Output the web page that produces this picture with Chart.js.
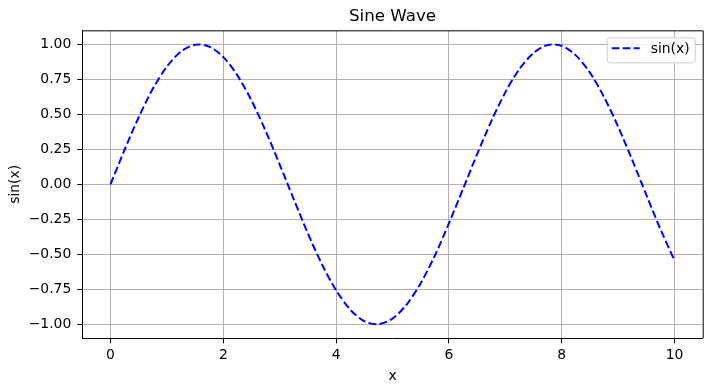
<!DOCTYPE html>
<html>
<head>
<meta charset="utf-8">
<script src="https://cdn.jsdelivr.net/npm/chart.js@4"></script>
<style>
  html, body { margin: 0; padding: 0; background: #fff; }
  #chart { display: block; }
</style>
</head>
<body>
<canvas id="chart" width="711" height="391"></canvas>
<script>
// values
const xs = [0, 0.25, 0.5, 0.75, 1, 1.25, 1.5, 1.75, 2, 2.25, 2.5, 2.75, 3, 3.25, 3.5, 3.75,
            4, 4.25, 4.5, 4.75, 5, 5.25, 5.5, 5.75, 6, 6.25, 6.5, 6.75, 7, 7.25, 7.5, 7.75,
            8, 8.25, 8.5, 8.75, 9, 9.25, 9.5, 9.75, 10];
const ys = [0.000, 0.247, 0.479, 0.682, 0.841, 0.949, 0.997, 0.984, 0.909, 0.778, 0.598, 0.382,
            0.141, -0.108, -0.351, -0.572, -0.757, -0.895, -0.978, -0.999, -0.959, -0.859,
            -0.706, -0.510, -0.279, -0.033, 0.215, 0.450, 0.657, 0.823, 0.938, 0.995, 0.989,
            0.921, 0.798, 0.624, 0.412, 0.174, -0.075, -0.320, -0.544];
const xTicks = [0, 2, 4, 6, 8, 10];
const yTicks = [-1, -0.75, -0.5, -0.25, 0, 0.25, 0.5, 0.75, 1];
const seriesLabel = 'sin(x)';

const FONT = 'DejaVu Sans';
const ctx = document.getElementById('chart').getContext('2d');

// top and right spines + legend box inside the axes
const frameAndLegend = {
    id: 'frameAndLegend',
    afterDraw(chart) {
        const c = chart.ctx;
        const a = chart.chartArea;
        c.save();
        c.strokeStyle = '#000';
        c.lineWidth = 1;
        c.beginPath();
        c.moveTo(a.left, a.top + 0.5);
        c.lineTo(a.right + 0.5, a.top + 0.5);
        c.lineTo(a.right + 0.5, a.bottom);
        c.stroke();

        // legend
        const bx = a.right - 96, by = a.top + 7, bw = 88, bh = 25;
        c.fillStyle = 'rgba(255,255,255,0.8)';
        c.strokeStyle = '#cccccc';
        c.lineWidth = 1;
        c.beginPath();
        c.roundRect(bx + 0.5, by + 0.5, bw, bh, 3);
        c.fill();
        c.stroke();
        c.strokeStyle = '#0000ff';
        c.lineWidth = 2;
        c.setLineDash([7.7, 3.3]);
        c.beginPath();
        c.moveTo(bx + 5, by + 11);
        c.lineTo(bx + 33, by + 11);
        c.stroke();
        c.setLineDash([]);
        c.fillStyle = '#000';
        c.font = '13.9px "' + FONT + '"';
        c.textBaseline = 'middle';
        c.fillText(seriesLabel, bx + 44, by + 12);
        c.restore();
    }
};

const fmtY = v => (v < 0 ? '\u2212' : '') + Math.abs(v).toFixed(2);

const myChart = new Chart(ctx, {
    type: 'scatter',
    data: {
        datasets: [{
            label: seriesLabel,
            data: xs.map((x, i) => ({x: x, y: ys[i]})),
            showLine: true,
            borderColor: '#0000ff',
            borderWidth: 2,
            borderDash: [7.7, 3.3],
            pointRadius: 0,
            tension: 0.3,
            fill: false
        }]
    },
    options: {
        responsive: false,
        animation: false,
        devicePixelRatio: 1,
        layout: { padding: { left: 0, right: 8.3, top: 0, bottom: 0 } },
        plugins: {
            legend: { display: false },
            tooltip: { enabled: false },
            title: {
                display: true,
                text: 'Sine Wave',
                fullSize: false,
                color: '#000',
                font: { family: FONT, size: 16.7, weight: 'normal', lineHeight: 1.2 },
                padding: { top: 7, bottom: 3.3 }
            }
        },
        scales: {
            x: {
                type: 'linear',
                min: -0.5,
                max: 10.5,
                afterBuildTicks: s => { s.ticks = xTicks.map(v => ({value: v})); },
                afterFit: s => { s.height = 52.7; },
                grid: { color: '#b0b0b0', lineWidth: 1, tickColor: '#000', tickLength: 5 },
                border: { color: '#000', width: 1 },
                ticks: { color: '#000', padding: 4, maxRotation: 0, font: { family: FONT, size: 13.9 } },
                title: {
                    display: true, text: 'x', color: '#000',
                    font: { family: FONT, size: 13.9 },
                    padding: { top: 0, bottom: 6.5 }
                }
            },
            y: {
                type: 'linear',
                min: -1.1,
                max: 1.1,
                afterBuildTicks: s => { s.ticks = yTicks.map(v => ({value: v})); },
                afterFit: s => { s.width = 82.3; },
                grid: { color: '#b0b0b0', lineWidth: 1, tickColor: '#000', tickLength: 5 },
                border: { color: '#000', width: 1 },
                ticks: { color: '#000', padding: 6, callback: v => fmtY(v), font: { family: FONT, size: 13.9 } },
                title: {
                    display: true, text: 'sin(x)', color: '#000',
                    font: { family: FONT, size: 13.9 },
                    padding: { top: 7, bottom: 0 }
                }
            }
        }
    },
    plugins: [frameAndLegend]
});
</script>
</body>
</html>
